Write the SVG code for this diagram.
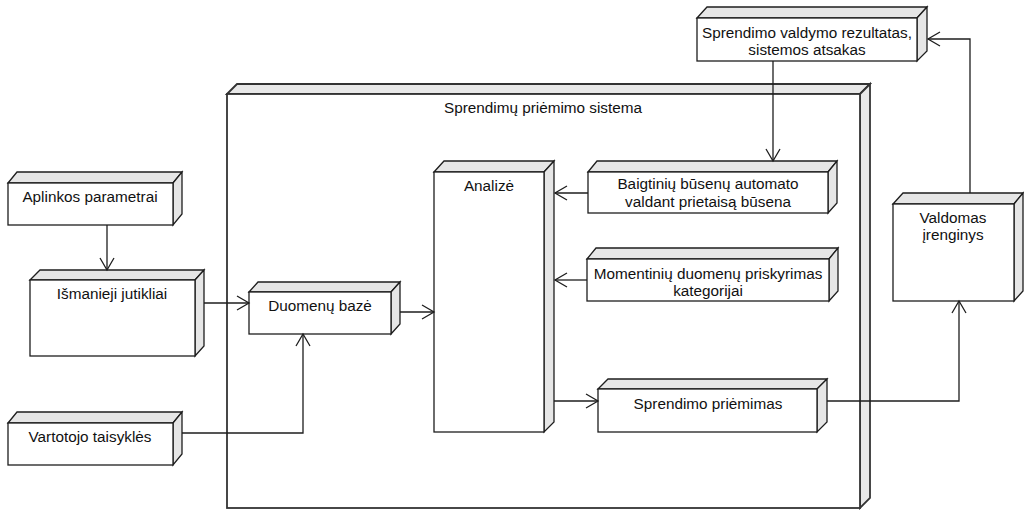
<svg xmlns="http://www.w3.org/2000/svg" width="1024" height="510" viewBox="0 0 1024 510">
<defs>
<style>
.f{fill:#ffffff;stroke:#1e1e1e;stroke-width:1.3}
.s{fill:#e6e6e6;stroke:#1e1e1e;stroke-width:1.3;stroke-linejoin:miter}
.mf{fill:#ffffff;stroke:#333333;stroke-width:1.8}
.ms{fill:#e8e8e8;stroke:#333333;stroke-width:1.8}
.t{font-family:"Liberation Sans",Arial,sans-serif;font-size:15.3px;fill:#111111;text-anchor:middle}
.c{fill:none;stroke:#1e1e1e;stroke-width:1.3}
</style>
<marker id="arr" markerUnits="userSpaceOnUse" markerWidth="16" markerHeight="16" viewBox="-13 -8 16 16" refX="0" refY="0" orient="auto">
<path d="M-12,-7 L0,0 L-12,7" fill="none" stroke="#1e1e1e" stroke-width="1.3"/>
</marker>
</defs>
<rect width="1024" height="510" fill="#ffffff"/>

<g id="sistema">
<path class="ms" d="M227,94 L237,84 L870,84 L860,94 Z"/>
<path class="ms" d="M860,94 L870,84 L870,498 L860,508 Z"/>
<rect class="mf" x="227" y="94" width="633" height="414"/>
<text class="t" x="543" y="113">Sprendimų priėmimo sistema</text>
</g>

<g id="aplinkos">
<path class="s" d="M8,183 L17,172 L182,172 L173,183 Z"/>
<path class="s" d="M173,183 L182,172 L182,214 L173,225 Z"/>
<rect class="f" x="8" y="183" width="165" height="42"/>
<text class="t" x="90" y="202">Aplinkos parametrai</text>
</g>

<g id="ismanieji">
<path class="s" d="M30,280 L40,270 L204,270 L195,280 Z"/>
<path class="s" d="M195,280 L204,270 L204,346 L195,356 Z"/>
<rect class="f" x="30" y="280" width="165" height="76"/>
<text class="t" x="112" y="299">Išmanieji jutikliai</text>
</g>

<g id="vartotojo">
<path class="s" d="M8,423 L17,412 L182,412 L173,423 Z"/>
<path class="s" d="M173,423 L182,412 L182,454 L173,465 Z"/>
<rect class="f" x="8" y="423" width="165" height="42"/>
<text class="t" x="90" y="442">Vartotojo taisyklės</text>
</g>

<g id="duomenu">
<path class="s" d="M249,292 L258,282 L400,282 L391,292 Z"/>
<path class="s" d="M391,292 L400,282 L400,324 L391,334 Z"/>
<rect class="f" x="249" y="292" width="142" height="42"/>
<text class="t" x="320" y="311">Duomenų bazė</text>
</g>

<g id="analize">
<path class="s" d="M434,172 L444,161 L554,161 L544,172 Z"/>
<path class="s" d="M544,172 L554,161 L554,422 L544,432 Z"/>
<rect class="f" x="434" y="172" width="110" height="260"/>
<text class="t" x="489" y="191">Analizė</text>
</g>

<g id="baigtiniu">
<path class="s" d="M588,172 L597,161 L837,161 L828,172 Z"/>
<path class="s" d="M828,172 L837,161 L837,203 L828,213 Z"/>
<rect class="f" x="588" y="172" width="240" height="41"/>
<text class="t" x="708" y="189">Baigtinių būsenų automato</text>
<text class="t" x="708" y="207">valdant prietaisą būsena</text>
</g>

<g id="momentiniu">
<path class="s" d="M587,259 L596,248 L838,248 L829,259 Z"/>
<path class="s" d="M829,259 L838,248 L838,291 L829,301 Z"/>
<rect class="f" x="587" y="259" width="242" height="42"/>
<text class="t" x="708" y="279">Momentinių duomenų priskyrimas</text>
<text class="t" x="708" y="296">kategorijai</text>
</g>

<g id="priemimas">
<path class="s" d="M598,389 L608,379 L827,379 L817,389 Z"/>
<path class="s" d="M817,389 L827,379 L827,422 L817,432 Z"/>
<rect class="f" x="598" y="389" width="219" height="43"/>
<text class="t" x="708" y="409">Sprendimo priėmimas</text>
</g>

<g id="rezultatas">
<path class="s" d="M697,18 L707,7 L927,7 L917,18 Z"/>
<path class="s" d="M917,18 L927,7 L927,51 L917,61 Z"/>
<rect class="f" x="697" y="18" width="220" height="43"/>
<text class="t" x="807" y="38">Sprendimo valdymo rezultatas,</text>
<text class="t" x="807" y="55">sistemos atsakas</text>
</g>

<g id="valdomas">
<path class="s" d="M893,204 L903,193 L1023,193 L1014,204 Z"/>
<path class="s" d="M1014,204 L1023,193 L1023,291 L1014,301 Z"/>
<rect class="f" x="893" y="204" width="121" height="97"/>
<text class="t" x="953" y="223">Valdomas</text>
<text class="t" x="953" y="240">įrenginys</text>
</g>

<g id="connectors">
<polyline class="c" points="107,225 107,270" marker-end="url(#arr)"/>
<polyline class="c" points="204,303 249,303" marker-end="url(#arr)"/>
<polyline class="c" points="182,433 303,433 303,334" marker-end="url(#arr)"/>
<polyline class="c" points="400,312 434,312" marker-end="url(#arr)"/>
<polyline class="c" points="588,193 555,193" marker-end="url(#arr)"/>
<polyline class="c" points="587,280 555,280" marker-end="url(#arr)"/>
<polyline class="c" points="554,401 598,401" marker-end="url(#arr)"/>
<polyline class="c" points="827,401 959,401 959,301" marker-end="url(#arr)"/>
<polyline class="c" points="970,193 970,39 928,39" marker-end="url(#arr)"/>
<polyline class="c" points="773,61 773,161" marker-end="url(#arr)"/>
</g>
</svg>
